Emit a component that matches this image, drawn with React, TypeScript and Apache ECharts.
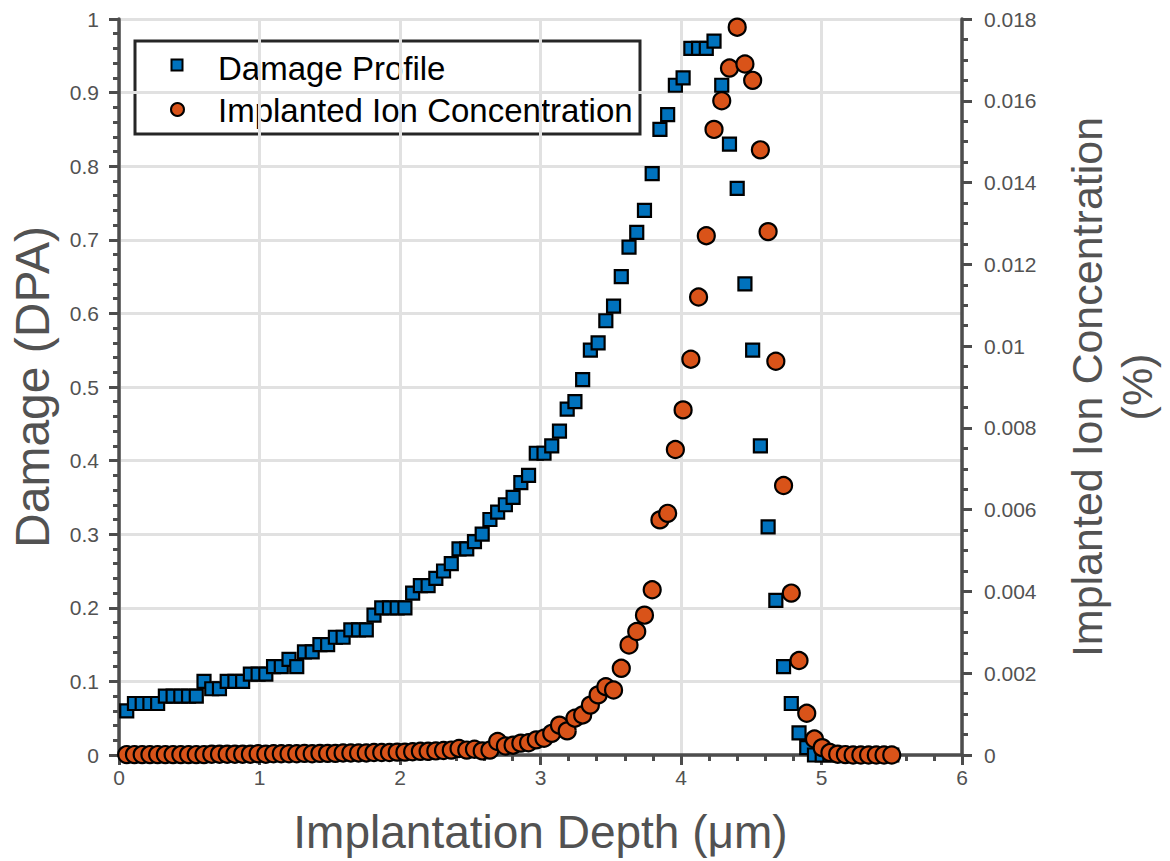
import React, { useEffect, useRef } from "react";
import * as echarts from "echarts";

// Implantation depth (µm) of each SRIM bin
const depth = [
  0.055, 0.11, 0.165, 0.22, 0.275, 0.33, 0.385, 0.44, 0.495, 0.55,
  0.605, 0.66, 0.715, 0.77, 0.825, 0.88, 0.935, 0.99, 1.045, 1.1,
  1.155, 1.21, 1.265, 1.32, 1.375, 1.43, 1.485, 1.54, 1.595, 1.65,
  1.705, 1.76, 1.815, 1.87, 1.925, 1.98, 2.035, 2.09, 2.145, 2.2,
  2.255, 2.31, 2.365, 2.42, 2.475, 2.53, 2.585, 2.64, 2.695, 2.75,
  2.805, 2.86, 2.915, 2.97, 3.025, 3.08, 3.135, 3.19, 3.245, 3.3,
  3.355, 3.41, 3.465, 3.52, 3.575, 3.63, 3.685, 3.74, 3.795, 3.85,
  3.905, 3.96, 4.015, 4.07, 4.125, 4.18, 4.235, 4.29, 4.345, 4.4,
  4.455, 4.51, 4.565, 4.62, 4.675, 4.73, 4.785, 4.84, 4.895, 4.95,
  5.005, 5.06, 5.115, 5.17, 5.225, 5.28, 5.335, 5.39, 5.445, 5.5,
];

// Damage (DPA)
const damage = [
  0.06, 0.07, 0.07, 0.07, 0.07, 0.08, 0.08, 0.08, 0.08, 0.08,
  0.1, 0.09, 0.09, 0.1, 0.1, 0.1, 0.11, 0.11, 0.11, 0.12,
  0.12, 0.13, 0.12, 0.14, 0.14, 0.15, 0.15, 0.16, 0.16, 0.17,
  0.17, 0.17, 0.19, 0.2, 0.2, 0.2, 0.2, 0.22, 0.23, 0.23,
  0.24, 0.25, 0.26, 0.28, 0.28, 0.29, 0.3, 0.32, 0.33, 0.34,
  0.35, 0.37, 0.38, 0.41, 0.41, 0.42, 0.44, 0.47, 0.48, 0.51,
  0.55, 0.56, 0.59, 0.61, 0.65, 0.69, 0.71, 0.74, 0.79, 0.85,
  0.87, 0.91, 0.92, 0.96, 0.96, 0.96, 0.97, 0.91, 0.83, 0.77,
  0.64, 0.55, 0.42, 0.31, 0.21, 0.12, 0.07, 0.03, 0.01, 0,
  0, 0, 0, 0, 0, 0, 0, 0, 0, 0,
];

// Implanted ion concentration (%)
const concentration = [
  0.00001, 0.00001, 0.00001, 0.00001, 0.00001, 0.00001, 0.00001, 0.00001, 0.00001, 0.00001,
  0.00001, 0.00002, 0.00002, 0.00002, 0.00002, 0.00002, 0.00002, 0.00003, 0.00002, 0.00003,
  0.00003, 0.00003, 0.00003, 0.00004, 0.00003, 0.00004, 0.00004, 0.00004, 0.00005, 0.00005,
  0.00005, 0.00005, 0.00006, 0.00006, 0.00006, 0.00007, 0.00007, 0.00008, 0.00009, 0.00009,
  0.0001, 0.00011, 0.00012, 0.00016, 0.00012, 0.00014, 0.0001, 0.00012, 0.00033, 0.00022,
  0.00024, 0.00029, 0.0003, 0.00037, 0.00041, 0.00053, 0.00073, 0.00059, 0.0009, 0.00098,
  0.00122, 0.00147, 0.00167, 0.00159, 0.00212, 0.00269, 0.00302, 0.00342, 0.00404, 0.00575,
  0.00591, 0.00747, 0.00844, 0.00968, 0.0112, 0.0127, 0.0153, 0.016, 0.0168, 0.0178,
  0.0169, 0.0165, 0.0148, 0.0128, 0.00963, 0.00659, 0.00396, 0.00231, 0.00102, 0.00039,
  0.00018, 0.00006, 0.00002, 0.00001, 0, 0, 0, 0, 0, 0,
];

const seriesNames = ["Damage Profile", "Implanted Ion Concentration"];
const xTitle = "Implantation Depth (\u03bcm)";
const yLeftTitle = "Damage (DPA)";
const yRightTitle = "Implanted Ion Concentration\n(%)";

const FONT = '"Liberation Sans", Arial, Helvetica, sans-serif';
const AXIS_COLOR = "#4d4d4d";
const LABEL_COLOR = "#525252";
const GRID_COLOR = "#e1e1e1";
const BLUE = "#0072BD";
const ORANGE = "#D95319";

export default function App() {
  const ref = useRef<HTMLDivElement>(null);

  useEffect(() => {
    if (!ref.current) return;
    const chart = echarts.init(ref.current, undefined, { renderer: "svg" });

    const axisCommon = {
      axisLine: { show: true, lineStyle: { color: AXIS_COLOR, width: 3.5 } },
      axisTick: { show: true, inside: false, length: 10, lineStyle: { color: AXIS_COLOR, width: 3 } },
      minorTick: { show: true, length: 6, lineStyle: { color: AXIS_COLOR, width: 3 } },
      axisLabel: { color: LABEL_COLOR, fontSize: 21, fontFamily: FONT },
      nameTextStyle: { color: LABEL_COLOR, fontFamily: FONT },
    };

    chart.setOption({
      animation: false,
      backgroundColor: "#ffffff",
      grid: { left: 119, right: 207, top: 19, bottom: 106, containLabel: false },
      xAxis: {
        type: "value",
        min: 0,
        max: 6,
        interval: 1,
        ...axisCommon,
        minorTick: { ...axisCommon.minorTick, splitNumber: 5 },
        axisLabel: { ...axisCommon.axisLabel, margin: 12 },
        splitLine: { show: true, lineStyle: { color: GRID_COLOR, width: 3 } },
        name: xTitle,
        nameLocation: "middle",
        nameGap: 54,
        nameTextStyle: { ...axisCommon.nameTextStyle, fontSize: 46 },
      },
      yAxis: [
        {
          type: "value",
          position: "left",
          min: 0,
          max: 1,
          interval: 0.1,
          ...axisCommon,
          minorTick: { ...axisCommon.minorTick, splitNumber: 5 },
          axisLabel: { ...axisCommon.axisLabel, margin: 20 },
          splitLine: { show: true, lineStyle: { color: GRID_COLOR, width: 3 } },
          name: yLeftTitle,
          nameLocation: "middle",
          nameGap: 63,
          nameTextStyle: { ...axisCommon.nameTextStyle, fontSize: 48 },
        },
        {
          type: "value",
          position: "right",
          min: 0,
          max: 0.018,
          interval: 0.002,
          ...axisCommon,
          minorTick: { ...axisCommon.minorTick, splitNumber: 4 },
          axisLabel: { ...axisCommon.axisLabel, margin: 22 },
          splitLine: { show: false },
          name: yRightTitle,
          nameLocation: "middle",
          nameGap: 100,
          nameTextStyle: { ...axisCommon.nameTextStyle, fontSize: 43, lineHeight: 50 },
        },
      ],
      series: [
        {
          name: seriesNames[0],
          type: "scatter",
          yAxisIndex: 0,
          symbol: "rect",
          symbolSize: 13,
          clip: false,
          z: 3,
          itemStyle: { color: BLUE, borderColor: "#000", borderWidth: 2.2, opacity: 1 },
          emphasis: { disabled: true },
          data: depth.map((d, i) => [d, damage[i]]),
        },
        {
          name: seriesNames[1],
          type: "scatter",
          yAxisIndex: 1,
          symbol: "circle",
          symbolSize: 17,
          clip: false,
          z: 4,
          itemStyle: { color: ORANGE, borderColor: "#000", borderWidth: 2.2, opacity: 1 },
          emphasis: { disabled: true },
          data: depth.map((d, i) => [d, concentration[i]]),
        },
      ],
      graphic: [
        {
          type: "group",
          z: 100,
          children: [
            {
              type: "rect",
              shape: { x: 135, y: 41, width: 505, height: 93 },
              style: { fill: "#ffffff", stroke: "#262626", lineWidth: 3 },
            },
            {
              type: "rect",
              shape: { x: 171.5, y: 59.5, width: 11, height: 11 },
              style: { fill: BLUE, stroke: "#000", lineWidth: 2 },
            },
            {
              type: "circle",
              shape: { cx: 177.5, cy: 109.5, r: 6.5 },
              style: { fill: ORANGE, stroke: "#000", lineWidth: 2 },
            },
            {
              type: "text",
              x: 218,
              y: 68,
              style: {
                text: seriesNames[0],
                fill: "#000",
                fontSize: 33,
                fontFamily: FONT,
                align: "left",
                verticalAlign: "middle",
              },
            },
            {
              type: "text",
              x: 218,
              y: 110,
              style: {
                text: seriesNames[1],
                fill: "#000",
                fontSize: 33,
                fontFamily: FONT,
                align: "left",
                verticalAlign: "middle",
              },
            },
          ],
        },
      ],
    });

    return () => chart.dispose();
  }, []);

  return (
    <div
      ref={ref}
      style={{ position: "fixed", left: 0, top: 0, width: 1170, height: 861, background: "#fff" }}
    />
  );
}
